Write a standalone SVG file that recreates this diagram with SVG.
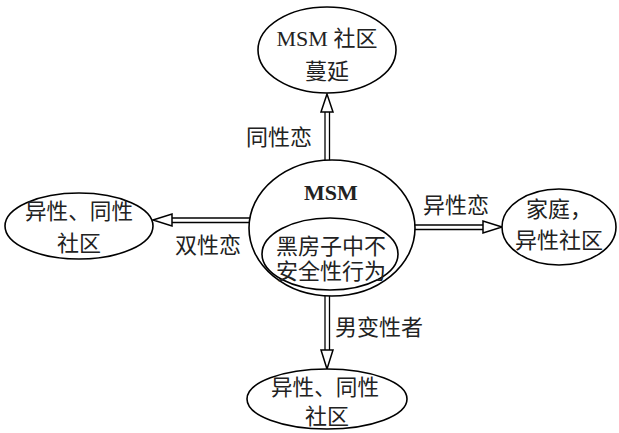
<svg xmlns="http://www.w3.org/2000/svg" width="619" height="433" viewBox="0 0 619 433">
<style>
.n{fill:#fff;stroke:#000;stroke-width:1.6}
.t{font-family:"Liberation Serif","Noto Sans CJK SC",serif;font-size:22px;fill:#222;text-anchor:middle}
.l{stroke:#000;stroke-width:1.3;fill:none}
.h{fill:#fff;stroke:#000;stroke-width:1.5;stroke-linejoin:miter}
</style>
<rect width="619" height="433" fill="#fff"/>
<g id="connectors">
<g id="up">
<line class="l" x1="325" y1="165" x2="325" y2="110"/>
<line class="l" x1="329.5" y1="165" x2="329.5" y2="110"/>
<polygon class="h" points="327,94 321,112 333,112"/>
</g>
<g id="left">
<line class="l" x1="251" y1="218" x2="170" y2="218"/>
<line class="l" x1="251" y1="222.5" x2="170" y2="222.5"/>
<polygon class="h" points="153,220 172,214 172,226"/>
</g>
<g id="right">
<line class="l" x1="414" y1="225" x2="485" y2="225"/>
<line class="l" x1="414" y1="229.5" x2="485" y2="229.5"/>
<polygon class="h" points="502,227 483,221 483,233"/>
</g>
<g id="down">
<line class="l" x1="325" y1="296" x2="325" y2="352"/>
<line class="l" x1="329.5" y1="296" x2="329.5" y2="352"/>
<polygon class="h" points="327,369 321,350 333,350"/>
</g>
<text class="t" x="279" y="145">同性恋</text>
<text class="t" x="208" y="253">双性恋</text>
<text class="t" x="456" y="213">异性恋</text>
<text class="t" x="379" y="335">男变性者</text>
</g>
<g id="top">
<ellipse class="n" cx="327" cy="50" rx="69" ry="43"/>
<text class="t" x="327" y="46">MSM 社区</text>
<text class="t" x="327" y="79">蔓延</text>
</g>
<g id="center">
<ellipse class="n" cx="332" cy="228" rx="83" ry="68"/>
<text class="t" x="331" y="200" font-weight="bold" font-size="20">MSM</text>
<ellipse class="n" cx="330" cy="254" rx="68" ry="36"/>
<text class="t" x="331" y="254" font-size="23">黑房子中不</text>
<text class="t" x="331" y="279" font-size="23">安全性行为</text>
</g>
<g id="left-node">
<ellipse class="n" cx="79" cy="226" rx="74" ry="33"/>
<text class="t" x="79" y="219" textLength="108" lengthAdjust="spacingAndGlyphs">异性、同性</text>
<text class="t" x="79" y="251">社区</text>
</g>
<g id="right-node">
<ellipse class="n" cx="559" cy="227" rx="57" ry="38"/>
<text class="t" x="559" y="217">家庭，</text>
<text class="t" x="559" y="248">异性社区</text>
</g>
<g id="bottom">
<ellipse class="n" cx="327" cy="399" rx="80" ry="30"/>
<text class="t" x="325" y="395" textLength="108" lengthAdjust="spacingAndGlyphs">异性、同性</text>
<text class="t" x="327" y="424">社区</text>
</g>
</svg>
